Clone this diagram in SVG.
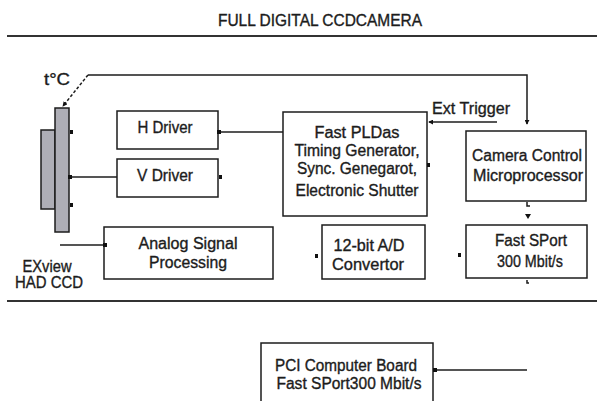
<svg xmlns="http://www.w3.org/2000/svg" width="597" height="401" viewBox="0 0 597 401">
<style>
text{font-family:"Liberation Sans",Arial,sans-serif;fill:#1c1c1c;stroke:#1c1c1c;stroke-width:0.35;font-size:16px;text-anchor:middle}
.box{fill:#fff;stroke:#1c1c1c;stroke-width:1.5}
.ln{stroke:#1c1c1c;stroke-width:1.5;fill:none}
.rule{stroke:#333;stroke-width:2;fill:none}
.gray{fill:#aeaeb6;stroke:#1c1c1c;stroke-width:1.5}
.mk{fill:#111}
</style>
<defs>
<marker id="ah" viewBox="0 0 6 6" refX="5" refY="3" markerWidth="5" markerHeight="5" orient="auto" markerUnits="userSpaceOnUse">
<path d="M0,0 L6,3 L0,6 z" fill="#111"/>
</marker>
<marker id="sq" viewBox="0 0 4 4" refX="2" refY="2" markerWidth="4" markerHeight="4" orient="auto" markerUnits="userSpaceOnUse">
<rect width="4" height="4" fill="#111"/>
</marker>
</defs>
<rect width="597" height="401" fill="#fff"/>
<g id="title">
<text x="320" y="26" font-size="18" textLength="204" lengthAdjust="spacingAndGlyphs">FULL DIGITAL CCDCAMERA</text>
</g>
<line class="rule" x1="7" y1="36" x2="597" y2="36"/>
<line class="rule" x1="7" y1="301" x2="597" y2="301"/>

<g id="ccd">
<rect class="gray" x="41" y="130" width="14" height="79"/>
<rect class="gray" x="55" y="108" width="14" height="124"/>
<text x="57" y="85" font-size="17" textLength="26" lengthAdjust="spacingAndGlyphs">t°C</text>
<text x="47" y="272" font-size="17" textLength="49" lengthAdjust="spacingAndGlyphs">EXview</text>
<text x="49" y="288" font-size="17" textLength="68" lengthAdjust="spacingAndGlyphs">HAD CCD</text>
</g>

<g id="hdriver">
<rect class="box" x="117" y="111" width="101" height="38"/>
<text x="165" y="133" textLength="55" lengthAdjust="spacingAndGlyphs">H Driver</text>
</g>
<g id="vdriver">
<rect class="box" x="117" y="159" width="101" height="38"/>
<text x="165" y="181" textLength="56" lengthAdjust="spacingAndGlyphs">V Driver</text>
</g>
<g id="pld">
<rect class="box" x="283" y="112" width="144" height="104"/>
<text x="357" y="138" textLength="85" lengthAdjust="spacingAndGlyphs">Fast PLDas</text>
<text x="357" y="156" textLength="125" lengthAdjust="spacingAndGlyphs">Timing Generator,</text>
<text x="357" y="174" textLength="120" lengthAdjust="spacingAndGlyphs">Sync. Genegarot,</text>
<text x="357" y="196" textLength="123" lengthAdjust="spacingAndGlyphs">Electronic  Shutter</text>
</g>
<g id="camctrl">
<rect class="box" x="466" y="131" width="120" height="70"/>
<text x="527" y="161" textLength="110" lengthAdjust="spacingAndGlyphs">Camera Control</text>
<text x="528" y="181" textLength="110" lengthAdjust="spacingAndGlyphs">Microprocessor</text>
</g>
<g id="analog">
<rect class="box" x="104" y="227" width="169" height="52"/>
<text x="188" y="249" textLength="99" lengthAdjust="spacingAndGlyphs">Analog Signal</text>
<text x="188" y="268" textLength="78" lengthAdjust="spacingAndGlyphs">Processing</text>
</g>
<g id="adc">
<rect class="box" x="322" y="225" width="103" height="54"/>
<text x="369" y="251" textLength="71" lengthAdjust="spacingAndGlyphs">12-bit A/D</text>
<text x="368" y="270" textLength="72" lengthAdjust="spacingAndGlyphs">Convertor</text>
</g>
<g id="sport">
<rect class="box" x="466" y="225" width="121" height="53"/>
<text x="531" y="246" textLength="72" lengthAdjust="spacingAndGlyphs">Fast SPort</text>
<text x="530" y="267" textLength="66" lengthAdjust="spacingAndGlyphs">300 Mbit/s</text>
</g>
<g id="pci">
<rect class="box" x="261" y="343" width="172" height="70"/>
<text x="346" y="371" textLength="142" lengthAdjust="spacingAndGlyphs">PCI Computer Board</text>
<text x="349" y="389" textLength="145" lengthAdjust="spacingAndGlyphs">Fast SPort300 Mbit/s</text>
</g>
<g id="exttrigger">
<text x="471" y="114" font-size="17" textLength="78" lengthAdjust="spacingAndGlyphs">Ext Trigger</text>
</g>

<g id="connectors">
<path class="ln" d="M88,75 H527 V124" marker-end="url(#ah)"/>
<line class="ln" x1="88" y1="75" x2="63" y2="106" stroke-dasharray="3,2" marker-end="url(#ah)"/>
<path class="ln" d="M497,122 H429" marker-end="url(#ah)"/>
<path class="ln" d="M283,132 H219" marker-end="url(#sq)"/>
<path class="ln" d="M117,177 H70" marker-end="url(#sq)"/>
<path class="ln" d="M60,245 H105" marker-end="url(#sq)"/>
<path class="ln" d="M527,370 H435" marker-end="url(#sq)"/>
<rect class="mk" x="70" y="130" width="3" height="4"/>
<rect class="mk" x="70" y="203" width="3" height="4"/>
<rect class="mk" x="219" y="175" width="3" height="4"/>
<rect class="mk" x="427" y="163" width="3" height="4"/>
<rect class="mk" x="315" y="254" width="3" height="4"/>
<rect class="mk" x="458" y="253" width="3" height="4"/>
<path class="ln" stroke-width="1" d="M527,202 V206 H530"/>
<path class="mk" d="M525,214 H531 L528,219 z"/>
<path class="ln" stroke-width="1" d="M527,280 V283 H529"/>
</g>
</svg>
